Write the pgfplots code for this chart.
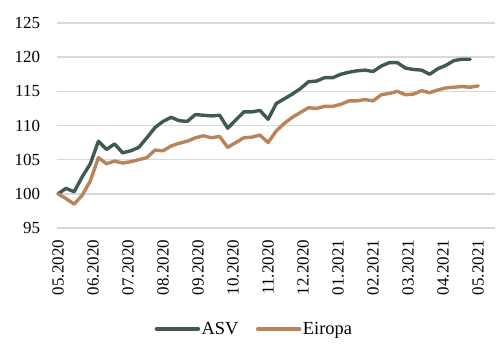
\documentclass[border=0pt]{standalone}
\usepackage{pgfplots}
\pgfplotsset{compat=1.18}
\usepackage{pgfplotstable}
\usepackage{fontspec}
\setmainfont{Liberation Serif}
\definecolor{asvc}{HTML}{3F5A4E}
\definecolor{euc}{HTML}{B9845A}
\definecolor{gridc}{HTML}{D9D9D9}

\pgfplotstableread{
i v
0 100.0
1 100.8
2 100.3
3 102.5
4 104.4
5 107.7
6 106.5
7 107.3
8 106.0
9 106.3
10 106.8
11 108.2
12 109.7
13 110.6
14 111.2
15 110.7
16 110.6
17 111.6
18 111.5
19 111.4
20 111.5
21 109.6
22 110.8
23 112.0
24 112.0
25 112.2
26 110.9
27 113.2
28 113.9
29 114.6
30 115.4
31 116.4
32 116.5
33 117.0
34 117.0
35 117.5
36 117.8
37 118.0
38 118.1
39 117.9
40 118.7
41 119.2
42 119.2
43 118.4
44 118.2
45 118.1
46 117.5
47 118.3
48 118.8
49 119.5
50 119.7
51 119.7
}\asvtable

\pgfplotstableread{
i v
0 100.0
1 99.3
2 98.5
3 99.8
4 101.9
5 105.3
6 104.4
7 104.8
8 104.5
9 104.7
10 105.0
11 105.3
12 106.4
13 106.3
14 107.0
15 107.4
16 107.7
17 108.2
18 108.5
19 108.2
20 108.4
21 106.8
22 107.5
23 108.2
24 108.3
25 108.6
26 107.5
27 109.2
28 110.3
29 111.2
30 111.9
31 112.6
32 112.5
33 112.8
34 112.8
35 113.1
36 113.6
37 113.6
38 113.8
39 113.6
40 114.5
41 114.7
42 115.0
43 114.5
44 114.6
45 115.1
46 114.8
47 115.2
48 115.5
49 115.6
50 115.7
51 115.6
52 115.8
}\eutable

\begin{document}
\begin{tikzpicture}
\useasboundingbox (0,0) rectangle (503bp,361bp);
\begin{axis}[
  at={(57bp,133bp)}, anchor=south west,
  scale only axis,
  width=438bp, height=205bp,
  xmin=-0.124, xmax=54.08,
  ymin=95, ymax=125,
  ytick={95,100,...,125},
  xtick={0,4.3333,8.6667,13,17.3333,21.6667,26,30.3333,34.6667,39,43.3333,47.6667,52},
  xticklabels={05.2020,06.2020,07.2020,08.2020,09.2020,10.2020,11.2020,12.2020,01.2021,02.2021,03.2021,04.2021,05.2021},
  axis line style={draw=none},
  major tick length=0pt,
  ymajorgrids,
  grid style={draw=gridc, line width=1.5bp},
  /pgf/number format/assume math mode=true,
  tick label style={font=\fontsize{17}{19}\selectfont, inner sep=0pt, outer sep=0pt},
  xticklabel style={rotate=90, anchor=east},
  yticklabel style={anchor=east},
  xticklabel shift=12bp,
  yticklabel shift=17bp,
  clip=false,
  legend columns=2,
  legend style={at={(0.45,-0.493)}, anchor=center, draw=none, fill=none,
    font=\fontsize{18.5}{20}\selectfont,
    nodes={inner sep=1.5bp},
    /tikz/every even column/.append style={column sep=16bp}},
  legend image code/.code={\draw[#1] (0bp,0bp) -- (42bp,0bp);},
]
\addplot[color=asvc, line width=3.4bp, line join=round, line cap=round] table[x=i, y=v] {\asvtable};
\addlegendentry{ASV}
\addplot[color=euc, line width=3.4bp, line join=round, line cap=round] table[x=i, y=v] {\eutable};
\addlegendentry{Eiropa}
\end{axis}
\end{tikzpicture}
\end{document}
